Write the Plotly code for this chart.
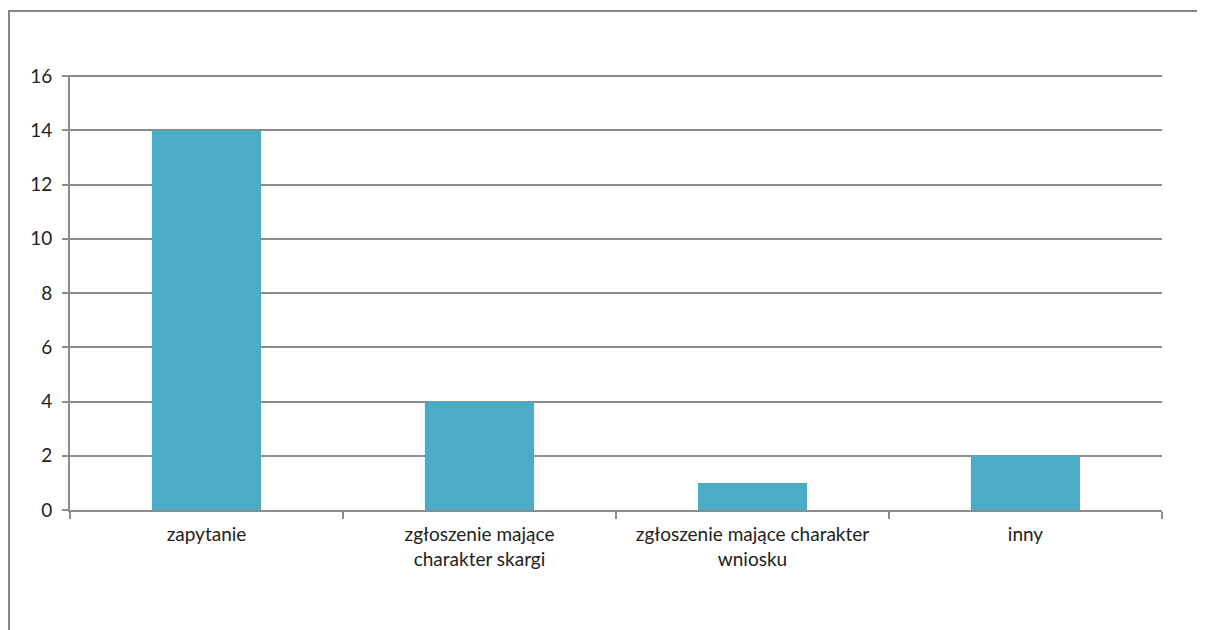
import plotly.graph_objects as go

categories = ["zapytanie", "zgłoszenie mające<br>charakter skargi",
              "zgłoszenie mające charakter<br>wniosku", "inny"]
values = [14, 4, 1, 2]
y_ticks = [0, 2, 4, 6, 8, 10, 12, 14, 16]

OFF = 8  # page body margin
W, H = 1205 - OFF, 630 - OFF
L, R, T, B = 70 - OFF, 1162 - OFF, 75 - OFF, 510 - OFF
pw, ph = R - L, B - T

fig = go.Figure(go.Bar(x=categories, y=values, marker_color="#4BACC6",
                       marker_line_width=0, width=0.4))

def px(x):
    return (x - OFF - L) / pw

def py(y):
    return (B - (y - OFF)) / ph

fig.add_shape(type="rect", xref="paper", yref="paper",
              x0=px(9), x1=px(1215), y0=py(640), y1=py(11),
              line=dict(color="#868686", width=2), fillcolor="rgba(0,0,0,0)", layer="below")

fig.update_layout(
    width=W, height=H,
    margin=dict(l=L, r=W - R, t=T, b=H - B, pad=0),
    paper_bgcolor="white", plot_bgcolor="white",
    font=dict(family="Lato, Open Sans, sans-serif", size=19, color="#222222"),
    showlegend=False,
    bargap=0.6,
    xaxis=dict(type="category", tickson="boundaries", ticks="outside", ticklen=7,
               tickcolor="#8c8c8c", tickwidth=2, showline=True, linecolor="#8c8c8c",
               linewidth=2, showgrid=False, tickfont=dict(size=19), ticklabelstandoff=6),
    yaxis=dict(range=[0, 16.04], tickvals=y_ticks, ticks="outside", ticklen=6,
               tickcolor="#8c8c8c", tickwidth=2, showline=True, linecolor="#8c8c8c",
               linewidth=2, showgrid=True, gridcolor="#8c8c8c", gridwidth=2,
               zeroline=False, tickfont=dict(size=19), ticklabelstandoff=6),
)

fig.write_html("out.html")
